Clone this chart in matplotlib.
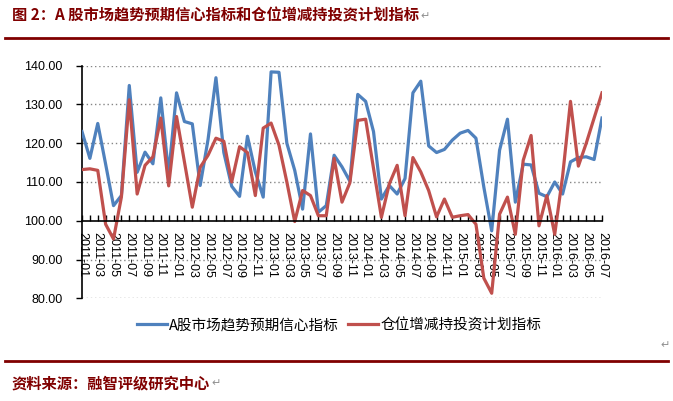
import matplotlib
matplotlib.use("Agg")
import matplotlib.pyplot as plt
from matplotlib.lines import Line2D

months = []
for y in range(2011, 2017):
    for m in range(1, 13):
        if y == 2016 and m > 7:
            break
        months.append(f"{y}-{m:02d}")

confidence = [
    123.0, 116.1, 125.1, 114.6, 103.9, 106.5, 134.9, 112.5, 117.7, 114.7, 131.7, 112.1,
    133.0, 125.6, 125.0, 109.1, 121.0, 136.9, 117.6, 108.9, 106.3, 121.8, 112.6, 106.1,
    138.4, 138.3, 120.0, 113.0, 103.0, 122.4, 102.2, 103.9, 116.9, 113.9, 110.2, 132.6,
    130.8, 123.0, 105.6, 109.1, 106.9, 110.9, 133.0, 136.0, 119.3, 117.6, 118.4, 120.8,
    122.6, 123.3, 121.3, 108.7, 97.4, 118.2, 126.2, 104.8, 114.6, 114.4, 107.1, 106.2,
    110.0, 106.9, 115.2, 116.3, 116.5, 115.8, 126.5,
]
position = [
    113.2, 113.4, 113.0, 99.1, 95.3, 106.1, 131.2, 106.9, 114.3, 116.5, 126.5, 109.0,
    126.9, 115.2, 103.5, 113.8, 116.9, 121.3, 120.5, 110.0, 119.1, 117.6, 106.5, 123.9,
    125.2, 119.5, 110.0, 99.8, 107.8, 106.5, 101.3, 101.3, 116.1, 104.8, 109.8, 125.9,
    126.2, 113.5, 100.9, 109.5, 114.3, 101.3, 116.3, 112.6, 107.8, 101.0, 105.6, 100.9,
    101.3, 101.6, 99.1, 85.2, 81.3, 101.7, 106.1, 96.5, 115.6, 122.0, 98.7, 106.5,
    96.5, 111.5, 130.8, 114.1, 120.0, 126.5, 133.0,
]
series_names = ["A股市场趋势预期信心指标", "仓位增减持投资计划指标"]
y_ticks = [80, 90, 100, 110, 120, 130, 140]
title_text = "图 2：A 股市场趋势预期信心指标和仓位增减持投资计划指标"
source_text = "资料来源：融智评级研究中心"

CJK = ["Noto Sans CJK SC", "DejaVu Sans"]
NUM = ["Liberation Sans", "DejaVu Sans"]
BLUE = "#4F81BD"
RED = "#C0504D"
MAROON = "#800000"

W, H = 673, 401
fig = plt.figure(figsize=(W / 100, H / 100), dpi=100)
ax = fig.add_axes([82 / W, 1 - 298.3 / H, (602 - 82) / W, (298.3 - 65.7) / H])

for s in ["top", "right"]:
    ax.spines[s].set_visible(False)
ax.spines["bottom"].set_position(("data", 100))
ax.spines["bottom"].set_linewidth(1.2)
ax.spines["left"].set_linewidth(1.2)
ax.spines["bottom"].set_zorder(5)

x = list(range(len(months)))
l1, = ax.plot(x, confidence, color=BLUE, lw=2.3, solid_joinstyle="round", zorder=3)
l2, = ax.plot(x, position, color=RED, lw=2.3, solid_joinstyle="round", zorder=4)

ax.set_xlim(0, len(months) - 1)
ax.set_ylim(80, 140)
ax.tick_params(axis="x", direction="in", length=4, width=1, pad=8, colors="black",
               labelrotation=270)
ax.tick_params(axis="y", direction="out", length=4, width=1, pad=10)

ax.set_yticks(y_ticks)
ax.set_yticklabels([f"{v:.2f}" for v in y_ticks], fontfamily=NUM, fontsize=9)
for v in y_ticks:
    if v != 100:
        ax.axhline(v, color="#868686", lw=1, ls=(0, (1, 2)), zorder=1)

ax.set_xticks(x)
ax.set_xticklabels([m if i % 2 == 0 else "" for i, m in enumerate(months)],
                   fontfamily=NUM, fontsize=9)
for lab in ax.get_xticklabels():
    lab.set_rotation(270)
    lab.set_va("top")
    lab.set_ha("center")

fig.legend([l1, l2], series_names, loc="center", bbox_to_anchor=(339 / W, 1 - 325 / H),
           ncol=2, frameon=False, handlelength=2.1, handletextpad=0.15, columnspacing=0.6,
           prop={"family": CJK, "size": 10.5})

t = fig.text(12 / W, 1 - 16 / H, title_text, ha="left", va="center",
             fontsize=11, fontweight="bold", color=MAROON, family=CJK)
s = fig.text(12 / W, 1 - 383 / H, source_text, ha="left", va="center",
             fontsize=11, fontweight="bold", color=MAROON, family=CJK)

fig.add_artist(Line2D([5 / W, 668 / W], [1 - 38 / H] * 2, color=MAROON, lw=2))
fig.add_artist(Line2D([5 / W, 668 / W], [1 - 361 / H] * 2, color=MAROON, lw=2))

fig.canvas.draw()
r = fig.canvas.get_renderer()
for txt in (t, s):
    bb = txt.get_window_extent(r)
    fig.text(bb.x1 / W + 1 / W, 1 - (H - (bb.y0 + bb.y1) / 2) / H, "↵", ha="left", va="center",
             fontsize=8, color="#909090", family=["DejaVu Sans"])
fig.text(665 / W, 1 - 345 / H, "↵", ha="center", va="center", fontsize=8, color="#909090",
         family=["DejaVu Sans"])

fig.savefig("out.png", dpi=100)
